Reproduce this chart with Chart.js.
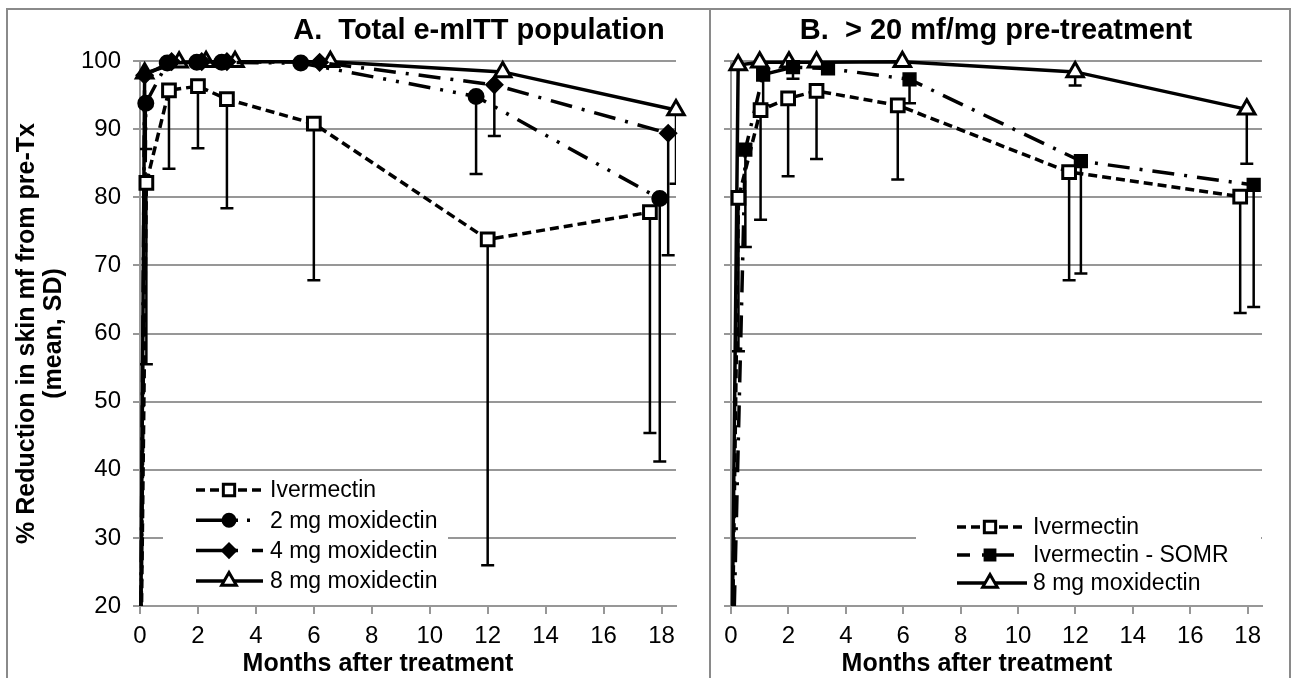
<!DOCTYPE html>
<html>
<head>
<meta charset="utf-8">
<title>Reduction in skin mf</title>
<script src="https://cdn.jsdelivr.net/npm/chart.js@4.4.1/dist/chart.umd.min.js"></script>
<style>
    body { margin: 0; background: #fff; }
    #frame { position: relative; width: 1293px; height: 678px; overflow: hidden; background: #fff; }
    .panel { position: absolute; top: 0; }
    .rule { position: absolute; background: #8a8a8a; }
</style>
</head>
<body>
<div id="frame">
    <canvas id="chart-a" class="panel" style="left:0" width="710" height="678"></canvas>
    <canvas id="chart-b" class="panel" style="left:710px" width="583" height="678"></canvas>
    <div class="rule" style="left:6px;top:8px;width:1284px;height:2px"></div>
    <div class="rule" style="left:6px;top:8px;width:2px;height:680px"></div>
    <div class="rule" style="left:1289px;top:8px;width:2px;height:680px"></div>
    <div class="rule" style="left:709px;top:8px;width:2px;height:680px"></div>
</div>
<script>
// ---- tick labels ----
const monthTicks = [0, 2, 4, 6, 8, 10, 12, 14, 16, 18];
const pctTicks = [20, 30, 40, 50, 60, 70, 80, 90, 100];

// ---- A. Total e-mITT population ----
const seriesNamesA = ['Ivermectin', '2 mg moxidectin', '4 mg moxidectin', '8 mg moxidectin'];

const ivmMonthsA = [0, 0.22, 1.0, 2.0, 3.0, 6.0, 12.0, 17.6];
const ivmMeanA = [0, 82.1, 95.7, 96.3, 94.4, 90.8, 73.8, 77.8];
const ivmLowA = [null, 55.5, 84.2, 87.2, 78.4, 67.8, 26.0, 45.4];

const mox2MonthsA = [0, 0.2, 0.94, 1.96, 2.82, 5.55, 11.6, 17.94];
const mox2MeanA = [0, 93.8, 99.7, 99.8, 99.8, 99.7, 94.8, 79.8];
const mox2LowA = [null, 87.1, null, null, null, null, 83.4, 41.2];

const mox4MonthsA = [0, 0.16, 1.09, 2.13, 3.0, 6.2, 12.23, 18.23];
const mox4MeanA = [0, 97.9, 99.9, 99.9, 99.9, 99.8, 96.5, 89.4];
const mox4LowA = [null, null, null, null, null, null, 89.0, 71.5];

const mox8MonthsA = [0, 0.16, 1.35, 2.28, 3.28, 6.57, 12.52, 18.5];
const mox8MeanA = [0, 98.2, 99.8, 99.9, 99.9, 99.9, 98.4, 92.8];
const mox8LowA = [null, null, null, null, null, null, null, 82.0];

// ---- B. > 20 mf/mg pre-treatment ----
const seriesNamesB = ['Ivermectin', 'Ivermectin - SOMR', '8 mg moxidectin'];

const ivmMonthsB = [0, 0.26, 1.03, 1.99, 2.98, 5.81, 11.78, 17.74];
const ivmMeanB = [0, 79.9, 92.8, 94.5, 95.6, 93.5, 83.7, 80.1];
const ivmLowB = [null, 57.4, 76.7, 83.1, 85.6, 82.6, 67.8, 63.0];

const somrMonthsB = [0, 0.5, 1.12, 2.16, 3.38, 6.22, 12.19, 18.21];
const somrMeanB = [0, 87.0, 98.0, 99.1, 98.9, 97.3, 85.3, 81.8];
const somrLowB = [null, 72.7, 93.5, 97.4, null, 93.8, 68.8, 63.9];

const mox8MonthsB = [0, 0.25, 1.0, 2.02, 2.98, 5.97, 11.99, 17.97];
const mox8MeanB = [0, 99.4, 99.8, 99.8, 99.8, 99.9, 98.4, 92.9];
const mox8LowB = [null, null, null, null, null, null, 96.4, 84.9];

const FONT = '"Liberation Sans", Arial, Helvetica, sans-serif';
const GRID = '#979797';

// Build {x, y} points from two arrays
function toPoints(xs, ys) {
    return xs.map(function (x, i) { return { x: x, y: ys[i] }; });
}

// Hide the marker of the baseline point (0, 0)
function hideFirst(r) {
    return function (c) { return c.dataIndex === 0 ? 0 : r; };
}

// Series styles
function lineSeries(label, xs, ys, low, style) {
    return Object.assign({
        label: label,
        data: toPoints(xs, ys),
        errLow: low,
        showLine: true,
        fill: false,
        tension: 0,
        borderColor: '#000',
        borderWidth: 3.5,
        borderDash: [],
        pointBorderColor: '#000',
        pointBackgroundColor: '#fff',
        pointBorderWidth: 3,
        clip: { left: 12, top: 15, right: 15, bottom: 0 }
    }, style, { pointRadius: hideFirst(style.markerSize) });
}

const openSquare = { pointStyle: 'rect', markerSize: 9, borderDash: [9, 5] };
const dot = { pointStyle: 'circle', markerSize: 7.5, pointBackgroundColor: '#000', pointBorderWidth: 2, borderDash: [22, 10, 3, 10, 3, 10], legendDash: [42, 9, 3, 99] };
const diamond = { pointStyle: 'rectRot', markerSize: 8.5, pointBackgroundColor: '#000', pointBorderWidth: 1.5, borderDash: [22, 10, 3, 10], legendDash: [42, 14, 11, 99] };
const openTriangle = { pointStyle: 'triangle', markerSize: 9.5, borderDash: [] };
const filledSquare = { pointStyle: 'rect', markerSize: 9, pointBackgroundColor: '#000', pointBorderWidth: 1.5, borderDash: [22, 10, 3, 10], legendDash: [13, 12, 3, 9, 20, 99] };

// Downward SD bars, drawn behind the markers
const errorBars = {
    id: 'errorBars',
    beforeDatasetsDraw(chart) {
        const ctx = chart.ctx, a = chart.chartArea, x = chart.scales.x, y = chart.scales.y;
        ctx.save();
        ctx.beginPath();
        ctx.rect(a.left, a.top, a.right - a.left, a.bottom - a.top);
        ctx.clip();
        ctx.strokeStyle = '#000';
        ctx.lineWidth = 2.5;
        ctx.setLineDash([]);
        chart.data.datasets.forEach(function (ds) {
            if (!ds.errLow) return;
            ds.data.forEach(function (p, i) {
                const low = ds.errLow[i];
                if (low === null || low === undefined) return;
                const px = x.getPixelForValue(p.x);
                const py = y.getPixelForValue(p.y);
                const pl = y.getPixelForValue(low);
                ctx.beginPath();
                ctx.moveTo(px, py);
                ctx.lineTo(px, pl);
                ctx.moveTo(px - 6.5, pl);
                ctx.lineTo(px + 6.5, pl);
                ctx.stroke();
            });
        });
        ctx.restore();
    }
};

// Legend inside the plot, with a white box over the gridlines
const boxLegend = {
    id: 'boxLegend',
    beforeDatasetsDraw(chart, args, opts) {
        const ctx = chart.ctx;
        ctx.save();
        ctx.fillStyle = '#fff';
        ctx.fillRect(opts.box[0], opts.box[1], opts.box[2], opts.box[3]);
        ctx.restore();
    },
    afterDraw(chart, args, opts) {
        const ctx = chart.ctx;
        const draw = Chart.helpers && Chart.helpers.drawPoint;
        ctx.save();
        chart.data.datasets.forEach(function (ds, i) {
            const y = opts.y0 + i * opts.dy;
            ctx.strokeStyle = '#000';
            ctx.lineWidth = 3.5;
            ctx.setLineDash(ds.legendDash || ds.borderDash || []);
            ctx.beginPath();
            ctx.moveTo(opts.x0, y);
            ctx.lineTo(opts.x1, y);
            ctx.stroke();
            ctx.setLineDash([]);
            ctx.fillStyle = ds.pointBackgroundColor;
            ctx.strokeStyle = ds.pointBorderColor;
            ctx.lineWidth = ds.pointBorderWidth;
            if (draw) {
                draw(ctx, { pointStyle: ds.pointStyle, rotation: 0, radius: ds.markerSize - 1, borderWidth: ds.pointBorderWidth }, opts.mx, y);
            }
            ctx.fillStyle = '#000';
            ctx.font = '23px ' + FONT;
            ctx.textAlign = 'left';
            ctx.textBaseline = 'middle';
            ctx.fillText(ds.label, opts.tx, y + 1);
        });
        ctx.restore();
    }
};

// Panel heading and x-axis caption
const captions = {
    id: 'captions',
    afterDraw(chart, args, opts) {
        const ctx = chart.ctx;
        ctx.save();
        ctx.fillStyle = '#000';
        ctx.textAlign = 'center';
        ctx.textBaseline = 'middle';
        ctx.font = 'bold 29px ' + FONT;
        ctx.fillText(opts.title, opts.titleX, opts.titleY);
        ctx.font = 'bold 25px ' + FONT;
        ctx.fillText(opts.xTitle, opts.xTitleX, opts.xTitleY);
        ctx.restore();
    }
};

function makeChart(id, datasets, panel) {
    return new Chart(document.getElementById(id), {
        type: 'scatter',
        data: { datasets: datasets },
        plugins: [errorBars, boxLegend, captions],
        options: {
            responsive: false,
            animation: false,
            events: [],
            layout: { padding: { top: 61, right: panel.padRight, bottom: 0, left: 0 } },
            plugins: {
                legend: { display: false },
                tooltip: { enabled: false },
                boxLegend: panel.legend,
                captions: panel.captions
            },
            scales: {
                x: {
                    type: 'linear',
                    min: 0,
                    max: 18.5,
                    afterBuildTicks: function (s) { s.ticks = monthTicks.map(function (v) { return { value: v }; }); },
                    afterFit: function (s) { s.height = 72; },
                    grid: { drawOnChartArea: false, drawTicks: true, tickLength: 8, color: GRID, lineWidth: 2 },
                    border: { color: GRID, width: 2 },
                    ticks: { color: '#000', font: { family: FONT, size: 24 }, padding: 8, maxRotation: 0, autoSkip: false }
                },
                y: {
                    type: 'linear',
                    min: 20,
                    max: 100,
                    afterBuildTicks: function (s) { s.ticks = pctTicks.map(function (v) { return { value: v }; }); },
                    afterFit: function (s) { s.width = panel.yWidth; },
                    grid: { color: GRID, lineWidth: 2, tickLength: 7 },
                    border: { color: GRID, width: 2 },
                    ticks: { display: panel.yLabels, color: '#000', font: { family: FONT, size: 24 }, padding: 12 },
                    title: {
                        display: panel.yLabels,
                        text: ['% Reduction in skin mf from pre-Tx', '(mean, SD)'],
                        color: '#000',
                        font: { family: FONT, size: 25, weight: 'bold', lineHeight: 1.08 },
                        padding: { top: 14, bottom: 0 }
                    }
                }
            }
        }
    });
}

// Panel A
makeChart('chart-a', [
    lineSeries(seriesNamesA[0], ivmMonthsA, ivmMeanA, ivmLowA, openSquare),
    lineSeries(seriesNamesA[1], mox2MonthsA, mox2MeanA, mox2LowA, dot),
    lineSeries(seriesNamesA[2], mox4MonthsA, mox4MeanA, mox4LowA, diamond),
    lineSeries(seriesNamesA[3], mox8MonthsA, mox8MeanA, mox8LowA, openTriangle)
], {
    padRight: 34,
    yWidth: 140,
    yLabels: true,
    legend: { box: [163, 474, 285, 130], x0: 196, x1: 263, mx: 229, tx: 270, y0: 490, dy: 30.3 },
    captions: { title: 'A.  Total e-mITT population', titleX: 479, titleY: 31, xTitle: 'Months after treatment', xTitleX: 378, xTitleY: 664 }
});

// Panel B
makeChart('chart-b', [
    lineSeries(seriesNamesB[0], ivmMonthsB, ivmMeanB, ivmLowB, openSquare),
    lineSeries(seriesNamesB[1], somrMonthsB, somrMeanB, somrLowB, filledSquare),
    lineSeries(seriesNamesB[2], mox8MonthsB, mox8MeanB, mox8LowB, openTriangle)
], {
    padRight: 31,
    yWidth: 21,
    yLabels: false,
    legend: { box: [206, 505, 345, 98], x0: 247, x1: 317, mx: 280, tx: 323, y0: 527, dy: 28 },
    captions: { title: 'B.  > 20 mf/mg pre-treatment', titleX: 286, titleY: 31, xTitle: 'Months after treatment', xTitleX: 267, xTitleY: 664 }
});
</script>
</body>
</html>
